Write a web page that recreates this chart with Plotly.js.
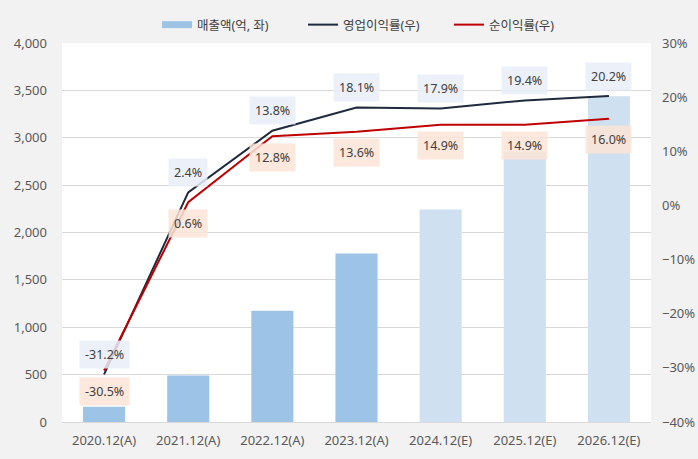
<!DOCTYPE html>
<html><head><meta charset="utf-8">
<script src="https://cdn.plot.ly/plotly-3.0.1.min.js"></script>
<style>html,body{margin:0;padding:0;background:#f2f2f2;}#chart{width:698px;height:459px;}</style>
</head><body><div id="chart"></div>
<script>
const categories = ['2020.12(A)','2021.12(A)','2022.12(A)','2023.12(A)','2024.12(E)','2025.12(E)','2026.12(E)'];
const revenue = [162, 490, 1175, 1778, 2243, 2850, 3439];
const opMargin = [-31.2, 2.4, 13.8, 18.1, 17.9, 19.4, 20.2];
const netMargin = [-30.5, 0.6, 12.8, 13.6, 14.9, 14.9, 16.0];
const barColors = ['#9dc3e6','#9dc3e6','#9dc3e6','#9dc3e6','#cfe0f1','#cfe0f1','#cfe0f1'];
const seriesNames = ['매출액(억, 좌)', '영업이익률(우)', '순이익률(우)'];

const font = 'Noto Sans, Noto Sans CJK KR, sans-serif';
const traces = [
  {type:'bar', x:categories, y:revenue, name:seriesNames[0], marker:{color:barColors}, width:0.5, hoverinfo:'skip', showlegend:false},
  {type:'scatter', mode:'lines', x:[categories[0]], y:[null], name:seriesNames[0], line:{color:'#9dc3e6', width:7}, legendrank:1},
  {type:'scatter', mode:'lines', x:categories, y:opMargin, name:seriesNames[1], yaxis:'y2', line:{color:'#1f2a3c', width:2}, legendrank:2},
  {type:'scatter', mode:'lines', x:categories, y:netMargin, name:seriesNames[2], yaxis:'y2', line:{color:'#c00000', width:2}, legendrank:3}
];
const ann = [];
categories.forEach((c,i)=>{
  ann.push({x:c, y:opMargin[i], yref:'y2', text:opMargin[i].toFixed(1)+'%', showarrow:false, yshift:20,
    bgcolor:'rgba(233,238,248,0.85)', borderpad:5, font:{size:12.5, color:'#404040', family:font}});
  ann.push({x:c, y:netMargin[i], yref:'y2', text:netMargin[i].toFixed(1)+'%', showarrow:false, yshift:-21,
    bgcolor:'rgba(252,228,214,0.85)', borderpad:5, font:{size:12.5, color:'#404040', family:font}});
});
const layout = {
  width:698, height:459,
  margin:{l:62, r:47, t:43, b:37},
  paper_bgcolor:'#f2f2f2', plot_bgcolor:'#ffffff',
  font:{family:font, size:12, color:'#595959'},
  showlegend:true,
  legend:{orientation:'h', x:157/698, xanchor:'left', xref:'container', y:(459-10)/459, yref:'container', yanchor:'top',
    font:{size:12.5, color:'#404040'}, bgcolor:'rgba(0,0,0,0)', itemwidth:30, entrywidth:101, entrywidthmode:'pixels', traceorder:'normal'},
  xaxis:{type:'category', tickfont:{size:13, color:'#595959'}, showline:true, linecolor:'#d9d9d9', ticks:'', ticklabelstandoff:6, fixedrange:true},
  yaxis:{range:[0,4000], dtick:500, tickformat:',d', gridcolor:'#d9d9d9', zeroline:false, tickfont:{size:13, color:'#595959'}, ticks:'', ticklabelstandoff:14},
  yaxis2:{overlaying:'y', side:'right', range:[-40,30], dtick:10, ticksuffix:'%', showgrid:false, zeroline:false, tickfont:{size:13, color:'#595959'}, ticks:'', ticklabelstandoff:10},
  annotations:ann,
  bargap:0.5
};
Plotly.newPlot('chart', traces, layout, {displayModeBar:false, staticPlot:true});
</script></body></html>
